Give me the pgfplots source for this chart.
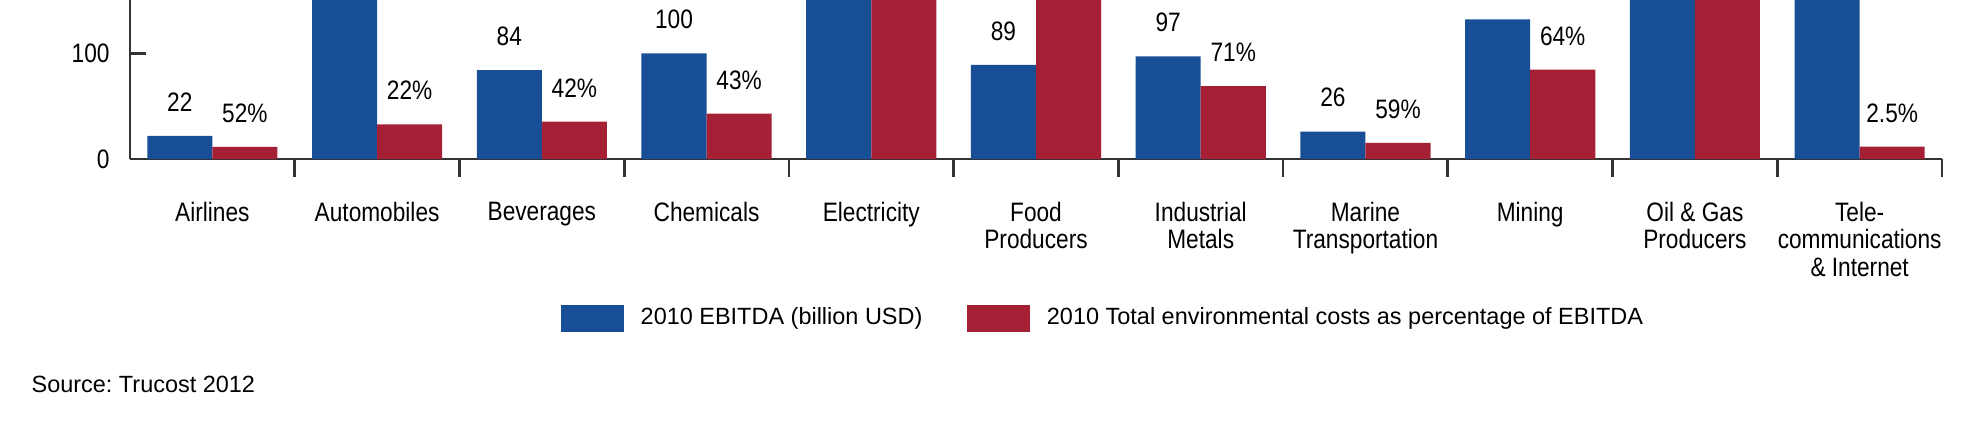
\documentclass[border=0pt]{standalone}
\usepackage{pgfplots}
\pgfplotsset{compat=1.18}
\usepackage{fontspec}
\setmainfont{Liberation Sans}
\newfontfamily\condfont[FakeStretch=0.85]{Liberation Sans}
\definecolor{cblue}{RGB}{23,78,150}
\definecolor{cred}{RGB}{165,32,53}
\definecolor{axisgray}{RGB}{50,50,50}
\frenchspacing
\begin{document}
\begin{tikzpicture}
\useasboundingbox (-48.75pt,-99.375pt) rectangle (687.75pt,59.625pt);
\clip (-48.75pt,-99.375pt) rectangle (687.75pt,59.625pt);
\begin{axis}[
  at={(0,0)}, anchor=south west,
  scale only axis,
  width=679.5pt, height=59.625pt,
  xmin=-0.5, xmax=10.5, ymin=0, ymax=150.4,
  axis x line*=bottom, axis y line*=left,
  axis line style={axisgray, line width=1pt, -},
  every tick/.append style={axisgray, line width=1pt},
  ybar, bar width=0.395,
  xtick={0,...,10},
  xticklabels={Airlines, Automobiles, Beverages, Chemicals, Electricity, {Food\\Producers}, {Industrial\\Metals}, {Marine\\Transportation}, Mining, {Oil \& Gas\\Producers}, {Tele-\\communications\\\& Internet}},
  every major x tick/.append style={draw=none},
  minor xtick={0.5,1.5,...,10.5},
  minor tick length=6.75pt,
  major tick length=6pt,
  xtick align=outside, ytick align=inside,
  ytick={0,100},
  /pgf/number format/assume math mode=true,
  xticklabel style={font=\condfont\fontsize{10}{10.35}\selectfont, align=center, anchor=north, inner sep=0pt, yshift=-9.8pt},
  yticklabel style={font=\condfont\fontsize{10}{12}\selectfont, anchor=east, inner sep=0pt, xshift=-7.5pt},
  point meta=explicit symbolic,
  nodes near coords,
  every node near coord/.append style={font=\condfont\fontsize{10}{12}\selectfont, inner sep=0pt, anchor=south, text height=7.2pt, text depth=0pt, yshift=9pt, black},
  legend columns=2,
  legend style={at={(0.2377,-1.002)}, anchor=west, draw=none, inner sep=0pt, fill=none,
    font=\fontsize{8.8}{10}\selectfont,
    nodes={inner sep=0pt},
    column sep=6.3pt,
    /tikz/every even column/.append style={column sep=16.9pt}},
  clip=true,
]
\addplot[fill=cblue, draw=none, bar shift=-0.1975,
  legend image code/.code={\fill[cblue] (0pt,-5pt) rectangle (23.5pt,5pt);}]
  coordinates {(0,22)[22] (1,160)[] (2,84)[84] (3,100)[100] (4,200)[] (5,89)[89] (6,97)[97] (7,26)[26] (8,132)[] (9,200)[] (10,300)[]};
\addlegendentry{2010 EBITDA (billion USD)}
\addplot[fill=cred, draw=none, bar shift=0.1975,
  legend image code/.code={\fill[cred] (0pt,-5pt) rectangle (23.5pt,5pt);}]
  coordinates {(0,11.4)[52\%] (1,32.7)[22\%] (2,35.3)[42\%] (3,43)[43\%] (4,200)[] (5,200)[] (6,68.9)[71\%] (7,15.3)[59\%] (8,84.5)[64\%] (9,155)[] (10,11.6)[2.5\%]};
\addlegendentry{2010 Total environmental costs as percentage of EBITDA}
\end{axis}
\node[anchor=west, inner sep=0pt, font=\fontsize{8.8}{10}\selectfont] at (-37.1pt,-84.6pt) {Source: Trucost 2012};
\end{tikzpicture}
\end{document}
